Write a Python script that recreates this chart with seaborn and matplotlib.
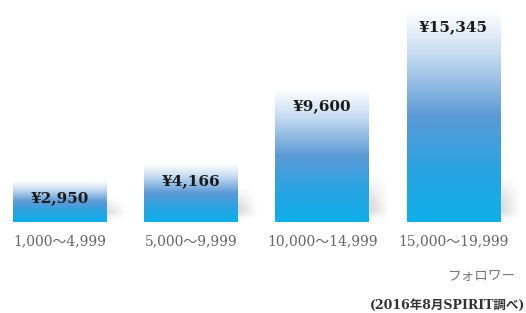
import numpy as np
import matplotlib
matplotlib.use("Agg")
import matplotlib.pyplot as plt
from matplotlib.colors import LinearSegmentedColormap
import seaborn as sns
import pandas as pd

categories = ["1,000～4,999", "5,000～9,999", "10,000～14,999", "15,000～19,999"]
values = [2950, 4166, 9600, 15345]
value_labels = ["¥2,950", "¥4,166", "¥9,600", "¥15,345"]
axis_title = "フォロワー"
source_note = "(2016年8月SPIRIT調べ)"

sns.set_theme(style="white")
plt.rcParams['font.family'] = ['DejaVu Serif', 'Noto Sans CJK JP', 'DejaVu Sans']

df = pd.DataFrame({"cat": categories, "val": values})

fig = plt.figure(figsize=(5.26, 3.13), dpi=100)
ax = fig.add_axes([0, (313 - 222) / 313, 1, 221 / 313])
sns.barplot(data=df, x="cat", y="val", ax=ax, width=0.71, color="#1aaee8",
            edgecolor="none", linewidth=0, zorder=2)
xmin = -59.5 / 131.3
XR = 526 / 131.3
YMAX = 16000
ax.set_xlim(xmin, xmin + XR)
ax.set_ylim(0, YMAX)
ax.axis("off")

px_x = 1 / 131.3
px_y = YMAX / 221

cmap = LinearSegmentedColormap.from_list("g", [
    (0.0, "#ffffff"), (0.2, "#c9ddf1"), (0.5, "#5c9ad6"),
    (0.75, "#2aa3e2"), (1.0, "#0eafea")])
grad = np.linspace(0, 1, 256).reshape(-1, 1)

bars = list(ax.patches)
for p, v in zip(bars, values):
    x0, w = p.get_x(), p.get_width()
    h = p.get_height()
    hp = h / px_y
    # soft shadow to the right of the bar
    sw, sh_top = 20, min(46, 0.6 * hp)
    ny, nx = 60, 40
    yy = np.linspace(0, sh_top, ny)[:, None]
    xx = np.linspace(-4, sw, nx)[None, :]
    fy = np.clip((yy - 2) / 8, 0, 1) * np.clip((sh_top - yy) / (sh_top * 0.6), 0, 1)
    fx = np.clip(1 - xx / sw, 0, 1) * np.clip((xx + 4) / 6, 0, 1)
    alpha = 0.28 * fy * fx
    rgba = np.zeros((ny, nx, 4))
    rgba[..., :3] = 0.45
    rgba[..., 3] = alpha
    ax.imshow(rgba, extent=(x0 + w - 4 * px_x, x0 + w + sw * px_x, 0, sh_top * px_y),
              origin="lower", aspect="auto", zorder=1, interpolation="bilinear")
    im = ax.imshow(grad, cmap=cmap, aspect="auto", extent=(x0, x0 + w, 0, h),
                   origin="upper", zorder=3)
    im.set_clip_path(p)

ax.set_xlim(xmin, xmin + XR)
ax.set_ylim(0, YMAX)

for p, lab in zip(bars, value_labels):
    cx = p.get_x() + p.get_width() / 2
    ax.annotate(lab, (cx, p.get_height()), xytext=(0, -12), textcoords="offset points",
                ha="center", va="center", fontsize=11, fontweight="bold",
                color="#1a1a1a", zorder=5, family=['DejaVu Serif'])

for i, c in enumerate(categories):
    xp = (i - xmin) / XR
    fig.text(xp, 1 - 241 / 313, c, ha="center", va="center", fontsize=10,
             color="#666666", family=['DejaVu Serif', 'Noto Sans CJK JP'])

fig.text(481 / 526, 1 - 276 / 313, axis_title, ha="center", va="center", fontsize=9.8,
         color="#777777", family=['Noto Sans CJK JP'])
fig.text(370 / 526, 1 - 305 / 313, source_note, ha="left", va="center", fontsize=9,
         color="#333333", fontweight="bold", family=['DejaVu Serif', 'Noto Sans CJK JP'])

fig.savefig("out.png", dpi=100)
